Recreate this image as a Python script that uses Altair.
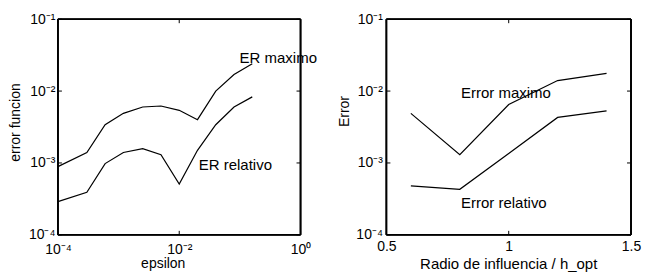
import altair as alt
import pandas as pd

# ---------------- data ----------------
# Left panel: error funcion vs epsilon
eps = [1e-4, 3e-4, 6e-4, 1.2e-3, 2.5e-3, 5e-3, 1e-2, 2e-2, 4e-2, 8e-2, 1.6e-1]
er_maximo = [8.9e-4, 1.4e-3, 3.4e-3, 4.9e-3, 6.0e-3, 6.2e-3, 5.4e-3, 4.0e-3, 1.0e-2, 1.7e-2, 2.4e-2]
er_relativo = [2.9e-4, 3.9e-4, 9.8e-4, 1.4e-3, 1.58e-3, 1.3e-3, 5.1e-4, 1.5e-3, 3.4e-3, 6.0e-3, 8.3e-3]

# Right panel: Error vs Radio de influencia / h_opt
radio = [0.6, 0.8, 1.0, 1.2, 1.4]
error_maximo = [4.9e-3, 1.3e-3, 6.5e-3, 1.4e-2, 1.76e-2]
error_relativo = [4.8e-4, 4.3e-4, 1.35e-3, 4.3e-3, 5.3e-3]

# Annotations (label, x, y in data coordinates)
left_labels = ["ER maximo", "ER relativo"]
left_label_x = [0.099, 0.021]
left_label_y = [0.029, 9.5e-4]
right_labels = ["Error maximo", "Error relativo"]
right_label_x = [0.805, 0.805]
right_label_y = [9.5e-3, 2.75e-4]

# Ticks
y_ticks = [1e-4, 1e-3, 1e-2, 1e-1]
y_tick_labels = ["10⁻⁴", "10⁻³", "10⁻²", "10⁻¹"]
x1_ticks = [1e-4, 1e-2, 1.0]
x1_tick_labels = ["10⁻⁴", "10⁻²", "10⁰"]
x2_ticks = [0.5, 1.0, 1.5]
x2_tick_labels = ["0.5", "1", "1.5"]

FONT = "Liberation Sans"
W1, W2, H = 243, 245, 216


def label_expr(vals, labs):
    expr = "''"
    for v, l in reversed(list(zip(vals, labs))):
        expr = f"(abs(datum.value - {v}) <= {abs(v) * 1e-6}) ? '{l}' : {expr}"
    return expr


def panel(xs, series, labels, lx, ly, xscale, xaxis, yaxis, xticks, W):
    yscale = alt.Scale(type="log", domain=[1e-4, 1e-1])
    X = lambda: alt.X("x:Q", scale=xscale, axis=xaxis)
    Y = lambda: alt.Y("y:Q", scale=yscale, axis=yaxis)

    rows = []
    for name, vals in series:
        for a, b in zip(xs, vals):
            rows.append({"x": a, "y": b, "s": name})
    df = pd.DataFrame(rows)

    lines = alt.Chart(df).mark_line(color="black", strokeWidth=1.2).encode(
        x=X(), y=Y(), detail="s:N"
    )
    txt = alt.Chart(pd.DataFrame({"x": lx, "y": ly, "t": labels})).mark_text(
        align="left", baseline="middle", font=FONT, fontSize=15, color="black"
    ).encode(x=X(), y=Y(), text="t:N")

    ydf = pd.DataFrame({"y": y_ticks})
    xdf = pd.DataFrame({"x": xticks})
    yl = alt.Chart(ydf).mark_rule(color="black").encode(y=Y(), x=alt.value(0), x2=alt.value(4))
    yr = alt.Chart(ydf).mark_rule(color="black").encode(y=Y(), x=alt.value(W - 4), x2=alt.value(W))
    xb = alt.Chart(xdf).mark_rule(color="black").encode(x=X(), y=alt.value(H - 4), y2=alt.value(H))
    xt = alt.Chart(xdf).mark_rule(color="black").encode(x=X(), y=alt.value(0), y2=alt.value(4))

    # frame (box) of the axes
    box = alt.Chart(xdf).mark_rule(color="black", strokeWidth=1.5)
    bl = box.encode(x=alt.value(0), y=alt.value(0), y2=alt.value(H))
    br = box.encode(x=alt.value(W), y=alt.value(0), y2=alt.value(H))
    bt = box.encode(y=alt.value(0), x=alt.value(0), x2=alt.value(W))
    bb = box.encode(y=alt.value(H), x=alt.value(0), x2=alt.value(W))

    return alt.layer(lines, txt, yl, yr, xb, xt, bl, br, bt, bb).properties(width=W, height=H)


common = dict(
    grid=False, domain=False, ticks=False, labelFont=FONT, labelFontSize=14,
    labelColor="black", labelFlush=False, titleFont=FONT, titleColor="black",
    titleFontWeight="normal",
)

y_axis_left = alt.Axis(
    values=y_ticks, labelExpr=label_expr(y_ticks, y_tick_labels), labelPadding=3,
    title="error funcion", titleFontSize=14, titleX=-42, titleY=103,
    titleBaseline="middle", **common
)
x_axis_left = alt.Axis(
    values=x1_ticks, labelExpr=label_expr(x1_ticks, x1_tick_labels), labelPadding=8,
    title="epsilon", titleFontSize=14, titleX=105, titleY=29,
    titleBaseline="middle", **common
)
y_axis_right = alt.Axis(
    values=y_ticks, labelExpr=label_expr(y_ticks, y_tick_labels), labelPadding=4,
    title="Error", titleFontSize=14, titleX=-42, titleY=92,
    titleBaseline="middle", **common
)
x_axis_right = alt.Axis(
    values=x2_ticks, labelExpr=label_expr(x2_ticks, x2_tick_labels), labelPadding=5,
    title="Radio de influencia / h_opt", titleFontSize=15, titleX=122, titleY=29,
    titleBaseline="middle", **common
)

left = panel(
    eps, [("max", er_maximo), ("rel", er_relativo)], left_labels, left_label_x, left_label_y,
    alt.Scale(type="log", domain=[1e-4, 1]), x_axis_left, y_axis_left, x1_ticks, W1,
)
right = panel(
    radio, [("max", error_maximo), ("rel", error_relativo)], right_labels, right_label_x, right_label_y,
    alt.Scale(domain=[0.5, 1.5], nice=False, zero=False), x_axis_right, y_axis_right, x2_ticks, W2,
)

chart = alt.hconcat(left, right, spacing=86, bounds="flush").properties(
    padding={"left": 0, "top": 3, "right": 0, "bottom": 0}
).configure(background="white").configure_view(stroke="transparent")

chart.save("out.html", embed_options={"renderer": "svg", "actions": False})
